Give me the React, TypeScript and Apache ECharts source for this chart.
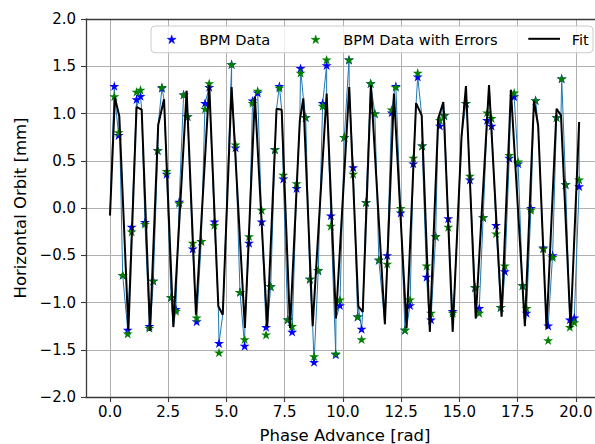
import React, { useEffect, useRef } from "react";
import * as echarts from "echarts";

// BPM phase advance [rad]
const phase = [
  0.185, 0.37, 0.545, 0.76, 0.93, 1.14, 1.31, 1.5, 1.69, 1.86,
  2.05, 2.23, 2.43, 2.62, 2.83, 2.97, 3.16, 3.33, 3.55, 3.72,
  3.92, 4.08, 4.26, 4.48, 4.68, 5.22, 5.39, 5.58, 5.78, 5.97,
  6.12, 6.34, 6.51, 6.7, 6.9, 7.08, 7.27, 7.44, 7.63, 7.82,
  8.01, 8.18, 8.4, 8.58, 8.76, 8.94, 9.13, 9.3, 9.48, 9.69,
  9.87, 10.06, 10.26, 10.44, 10.63, 10.8, 10.99, 11.19, 11.37, 11.54,
  11.9, 12.09, 12.27, 12.48, 12.66, 12.88, 13.02, 13.21, 13.4, 13.59,
  13.78, 13.98, 14.16, 14.35, 14.52, 14.71, 15.28, 15.45, 15.67, 15.85,
  16.02, 16.19, 16.38, 16.57, 16.77, 16.95, 17.14, 17.35, 17.52, 17.71,
  17.88, 18.07, 18.27, 18.6, 18.81, 19.0, 19.17, 19.39, 19.56, 19.74, 19.93, 20.14,
];

// BPM Data [mm]
const bpm = [
  1.29, 0.77, -0.71, -1.29, -0.2, 1.15, 1.185, -0.15, -1.25, -0.77,
  0.61, 1.27, 0.36, -0.945, -1.07, 0.065, 1.2, 0.97, -0.43, -1.2,
  -0.35, 1.11, 1.28, -0.145, -1.43, 1.52, 0.64, -0.89, -1.46, -0.37,
  1.135, 1.22, -0.145, -1.26, -0.83, 0.62, 1.29, 0.31, -1.18, -1.31,
  0.21, 1.48, 0.96, -0.75, -1.63, -0.66, 1.11, 1.51, -0.08, -1.55,
  -1.03, 0.75, 1.57, 0.43, -1.15, -1.28, 0.06, 1.32, 1.0, -0.55,
  -0.5, 1.01, 1.29, -0.05, -1.29, -1.03, 0.47, 1.39, 0.66, -0.73,
  -1.18, -0.3, 0.87, 0.98, -0.11, -1.09, 1.11, 0.3, -0.84, -1.06,
  -0.1, 0.93, 0.87, -0.18, -1.05, -0.67, 0.53, 1.18, 0.47, -0.82,
  -1.11, 0.0, 1.14, -0.42, -1.245, -0.5, 0.96, 1.37, 0.25, -1.18, -1.16, 0.23,
];

// BPM Data with Errors [mm]
const bpmErr = [
  1.18, 0.8, -0.71, -1.33, -0.25, 1.23, 1.25, -0.17, -1.27, -0.77,
  0.61, 1.28, 0.39, -0.945, -1.09, 0.05, 1.2, 0.97, -0.37, -1.16,
  -0.35, 1.05, 1.32, -0.18, -1.53, 1.52, 0.67, -0.89, -1.39, -0.3,
  1.11, 1.24, -0.02, -1.34, -0.83, 0.62, 1.27, 0.35, -1.18, -1.25,
  0.26, 1.43, 0.96, -0.75, -1.57, -0.66, 1.08, 1.57, -0.19, -1.54,
  -0.97, 0.75, 1.57, 0.36, -1.15, -1.39, 0.06, 1.32, 1.0, -0.55,
  -0.59, 1.04, 1.28, 0.0, -1.29, -0.97, 0.53, 1.43, 0.66, -0.61,
  -1.11, -0.3, 0.93, 0.98, -0.2, -1.11, 1.11, 0.34, -0.84, -1.11,
  -0.1, 1.01, 0.95, -0.27, -1.05, -0.61, 0.56, 1.22, 0.49, -0.82,
  -1.06, -0.02, 1.14, -0.43, -1.4, -0.52, 0.96, 1.37, 0.25, -1.26, -1.21, 0.3,
];

// Fit evaluated along the lattice
const fitPhase = [
  0.0, 0.21, 0.4, 0.79, 1.14, 1.36, 1.72, 2.07, 2.32, 2.72,
  3.29, 3.69, 4.26, 4.65, 4.84, 5.22, 5.79, 6.22, 6.75, 7.15,
  7.37, 7.73, 8.15, 8.3, 8.7, 9.3, 9.7, 10.27, 10.66, 10.85,
  11.2, 11.8, 12.19, 12.73, 13.14, 13.38, 13.73, 14.09, 14.31, 14.71,
  15.09, 15.28, 15.7, 16.27, 16.81, 17.21, 17.81, 18.2, 18.38, 18.74,
  19.17, 19.36, 19.77, 20.14,
];
const fitOrbit = [
  -0.08, 1.17, 0.97, -1.29, 1.07, 1.04, -1.3, 0.88, 1.15, -1.26,
  1.24, -1.13, 1.3, -1.04, -1.13, 1.28, -1.27, 1.18, -1.26, 1.05,
  1.04, -1.27, 0.93, 1.16, -1.25, 1.21, -1.17, 1.28, -1.04, -1.1,
  1.3, -1.23, 1.21, -1.27, 1.11, 0.98, -1.31, 0.95, 1.12, -1.31,
  0.75, 1.29, -1.17, 1.3, -1.15, 1.25, -1.25, 1.135, 0.87, -1.28,
  1.05, 0.98, -1.27, 0.91,
];

const xTicks = [0, 2.5, 5, 7.5, 10, 12.5, 15, 17.5, 20];
const yMin = -2;
const yMax = 2;
const yStep = 0.5;

const legendLabels = ["BPM Data", "BPM Data with Errors", "Fit"];
const COL_BPM = "#0000ff";
const COL_ERR = "#008000";
const COL_FIT = "#000000";
const COL_TRUE = "#1f77b4";

const FONT = "DejaVu Sans";
const STAR_PTS = [
  [0, -1], [0.2245, -0.309], [0.951, -0.309], [0.3633, 0.118], [0.5878, 0.809],
  [0, 0.382], [-0.5878, 0.809], [-0.3633, 0.118], [-0.951, -0.309], [-0.2245, -0.309],
];
const STAR = "path://" + STAR_PTS.map((p, i) => (i ? "L" : "M") + p[0] + "," + p[1]).join("") + "Z";

const fmt = (v: number) => v.toFixed(1).replace("-", "\u2212");

function starPolygon(cx: number, cy: number, r: number, color: string) {
  return {
    type: "polygon",
    shape: { points: STAR_PTS.map((p) => [cx + p[0] * r, cy + p[1] * r + 0.1 * r]) },
    style: { fill: color, stroke: color, lineWidth: 0.6 },
    z: 101,
  };
}

export default function App() {
  const ref = useRef<HTMLDivElement>(null);
  useEffect(() => {
    if (!ref.current) return;
    const chart = echarts.init(ref.current, undefined, { renderer: "svg" });

    const bpmPts = phase.map((p, i) => [p, bpm[i]]);
    const errPts = phase.map((p, i) => [p, bpmErr[i]]);
    const fitPts = fitPhase.map((p, i) => [p, fitOrbit[i]]);
    const truePts = [...bpmPts, ...fitPts].sort((a, b) => a[0] - b[0]);

    const axisColor = "#3a3a3a";
    const legendY = 39.3;
    const textStyle = { fontFamily: FONT, fontSize: 14.6, fill: "#000", verticalAlign: "middle" };
    chart.setOption({
      animation: false,
      backgroundColor: "#ffffff",
      grid: {
        left: 86,
        right: 0,
        top: 19,
        bottom: 47,
        containLabel: false,
        outerBoundsMode: "none",
      },
      graphic: [
        {
          type: "rect",
          shape: { x: 151, y: 26, width: 442, height: 26.7, r: 4 },
          style: { fill: "rgba(255,255,255,0.8)", stroke: "#cccccc", lineWidth: 1 },
          z: 100,
        },
        starPolygon(171.7, legendY, 4.6, COL_BPM),
        { type: "text", x: 199.3, y: legendY + 0.5, style: { ...textStyle, text: legendLabels[0] }, z: 101 },
        starPolygon(315.7, legendY, 4.6, COL_ERR),
        { type: "text", x: 343.3, y: legendY + 0.5, style: { ...textStyle, text: legendLabels[1] }, z: 101 },
        {
          type: "line",
          shape: { x1: 528.3, y1: legendY - 0.5, x2: 560, y2: legendY - 0.5 },
          style: { stroke: COL_FIT, lineWidth: 2 },
          z: 101,
        },
        { type: "text", x: 571.7, y: legendY + 0.5, style: { ...textStyle, text: legendLabels[2] }, z: 101 },
      ],
      xAxis: [
        {
          type: "value",
          min: -1.03,
          max: 20.82,
          name: "Phase Advance [rad]",
          nameLocation: "middle",
          nameGap: 30,
          nameTextStyle: {
            fontFamily: FONT,
            fontSize: 16.5,
            color: "#000",
            padding: [0, 0, 0, 9],
          },
          axisLine: { show: true, onZero: false, lineStyle: { color: axisColor, width: 1.3 } },
          axisTick: {
            show: true,
            length: 5,
            customValues: xTicks,
            lineStyle: { color: axisColor, width: 1.1 },
          },
          axisLabel: {
            show: true,
            customValues: xTicks,
            margin: 7,
            fontFamily: FONT,
            fontSize: 15,
            color: "#000",
            formatter: (v: number) => fmt(v),
          },
          splitLine: { show: true, lineStyle: { color: "#b0b0b0", width: 1 } },
        },
        {
          type: "value",
          position: "top",
          min: -1.03,
          max: 20.82,
          axisLine: { show: true, onZero: false, lineStyle: { color: axisColor, width: 1.3 } },
          axisTick: { show: false },
          axisLabel: { show: false },
          splitLine: { show: false },
        },
      ],
      yAxis: {
        type: "value",
        min: yMin,
        max: yMax,
        interval: yStep,
        name: "Horizontal Orbit [mm]",
        nameLocation: "middle",
        nameGap: 57,
        nameTextStyle: { fontFamily: FONT, fontSize: 16.5, color: "#000" },
        axisLine: { show: true, onZero: false, lineStyle: { color: axisColor, width: 1.3 } },
        axisTick: { show: true, length: 5, lineStyle: { color: axisColor, width: 1.1 } },
        axisLabel: {
          margin: 10,
          fontFamily: FONT,
          fontSize: 15,
          color: "#000",
          formatter: (v: number) => fmt(v),
        },
        splitLine: { show: true, lineStyle: { color: "#b0b0b0", width: 1 } },
      },
      series: [
        {
          name: "True Orbit",
          type: "line",
          data: truePts,
          showSymbol: false,
          symbol: "none",
          lineStyle: { color: COL_TRUE, width: 1 },
          z: 2,
        },
        {
          name: legendLabels[0],
          type: "scatter",
          data: bpmPts,
          symbol: STAR,
          symbolSize: 10,
          symbolKeepAspect: true,
          itemStyle: { color: COL_BPM, opacity: 1 },
          z: 3,
        },
        {
          name: legendLabels[1],
          type: "scatter",
          data: errPts,
          symbol: STAR,
          symbolSize: 10,
          symbolKeepAspect: true,
          itemStyle: { color: COL_ERR, opacity: 1 },
          z: 4,
        },
        {
          name: legendLabels[2],
          type: "line",
          data: fitPts,
          showSymbol: false,
          symbol: "none",
          lineStyle: { color: COL_FIT, width: 2 },
          itemStyle: { color: COL_FIT },
          z: 5,
        },
      ],
    });
    return () => chart.dispose();
  }, []);
  return (
    <div
      ref={ref}
      style={{ position: "absolute", left: 0, top: 0, width: 595, height: 444 }}
    />
  );
}
